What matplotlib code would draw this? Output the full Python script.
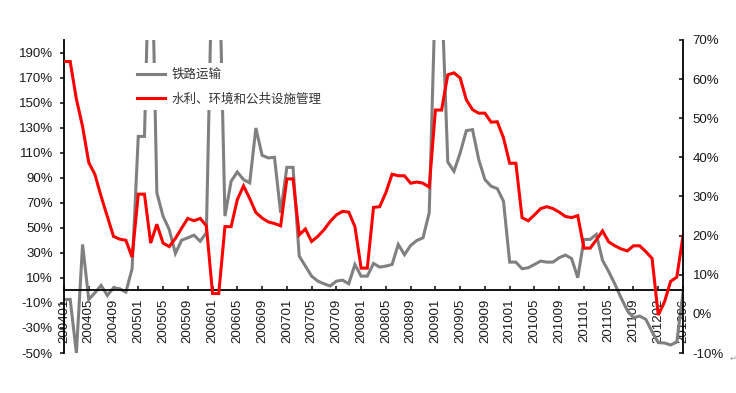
import matplotlib
matplotlib.use("Agg")
import matplotlib.pyplot as plt
from matplotlib.ticker import FuncFormatter
from matplotlib.lines import Line2D

plt.rcParams['font.family'] = ['Liberation Sans', 'Noto Sans CJK SC', 'DejaVu Sans']

# ---- data ----
months = [f"{y}{m:02d}" for y in range(2004, 2012) for m in range(1, 13)]
categories = months + ["201202", "201203", "201204", "201205", "201206"]

rail = [-7.2, -7.2, -50, 36.7, -7.2, -1.9, 4.0, -4.0, 2.1, 1.3,
        -1.3, 17.3, 123, 123, 320, 78, 59.3, 48.6, 29.5, 40.1,
        42, 44.1, 39.3, 46, 280, 280, 59.3, 87.2, 94.6, 88.5,
        85.9, 129.7, 107.9, 105.8, 106.3, 62, 98.3, 98.3, 27.4, 19.4,
        11.4, 7.4, 5.3, 3.5, 7.4, 8.2, 5.3, 20.7, 11.4, 11.4,
        21.5, 18.6, 19.4, 20.7, 36.7, 28.5, 35.9, 39.9, 42, 62,
        240, 240, 102.6, 95.1, 109.8, 127.6, 128.4, 104.5, 88.5, 83.2,
        81.3, 71.2, 22.6, 22.6, 17.3, 18.1, 20.7, 23.4, 22.6, 22.6,
        26.1, 28.2, 25.5, 10.1, 40.7, 40.7, 44.7, 24, 15, 5,
        -6, -16, -21.8, -20.5, -23.1, -33, -41.7, -42, -43.6, -41.2,
        -1.9]

water = [64.5, 64.5, 54.9, 47.9, 38.7, 35.6, 30.0, 24.9, 19.8, 19.1,
         18.8, 14.5, 30.6, 30.6, 18.1, 22.9, 18.1, 17.2, 19.3, 21.9,
         24.4, 23.8, 24.4, 22.5, 5.2, 5.2, 22.3, 22.3, 29.2, 32.7,
         29.5, 25.9, 24.5, 23.5, 23.1, 22.5, 34.5, 34.5, 20.2, 21.7,
         18.5, 19.8, 21.5, 23.6, 25.3, 26.2, 26.0, 22.3, 11.7, 11.7,
         27.2, 27.4, 31.0, 35.7, 35.3, 35.3, 33.4, 33.7, 33.4, 32.4,
         52.1, 52.1, 61.1, 61.6, 60.3, 54.7, 52.2, 51.3, 51.3, 49.0,
         49.1, 45.0, 38.5, 38.5, 24.6, 23.8, 25.3, 26.9, 27.4, 26.9,
         26.0, 24.9, 24.6, 25.1, 16.8, 16.8, 18.9, 21.2, 18.4, 17.4,
         16.6, 16.1, 17.4, 17.4, 15.9, 14.2, -0.3, 3.0, 8.3, 9.4,
         19.9]

series_names = ["铁路运输", "水利、环境和公共设施管理"]
left_ticks = list(range(-50, 191, 20))
right_ticks = list(range(-10, 71, 10))

# ---- figure ----
fig = plt.figure(figsize=(7.36, 3.93), dpi=100)
L, R, T, B = 64, 683, 40, 353
ax = fig.add_axes([L / 736, 1 - B / 393, (R - L) / 736, (B - T) / 393])

x = list(range(len(categories)))
gray = '#808080'
red = '#ff0000'
ax.plot(x, rail, color=gray, lw=2.2, solid_joinstyle='miter')
ax.set_xlim(0, len(categories) - 1)
ax.set_ylim(-50, 200)

ax2 = ax.twinx()
ax2.plot(x, water, color=red, lw=2.2, solid_joinstyle='miter')
ax2.set_ylim(-10, 70)

for s in ['top', 'right']:
    ax.spines[s].set_visible(False)
for s in ['top', 'left', 'bottom']:
    ax2.spines[s].set_visible(False)
ax.spines['bottom'].set_position(('data', 0))
for sp in [ax.spines['left'], ax.spines['bottom'], ax2.spines['right']]:
    sp.set_color('black')
    sp.set_linewidth(1.3)

pct = FuncFormatter(lambda v, p: f"{int(round(v))}%")
ax.set_yticks(left_ticks)
ax.yaxis.set_major_formatter(pct)
ax.tick_params(axis='y', direction='out', length=3, width=1.2, pad=5,
               labelsize=9.5, colors='#1a1a1a')
ax2.set_yticks(right_ticks)
ax2.yaxis.set_major_formatter(pct)
ax2.tick_params(axis='y', direction='in', length=3, width=1.2, pad=7,
                labelsize=9.5, colors='#1a1a1a')

tick_idx = list(range(0, len(categories), 4))
ax.set_xticks(tick_idx)
ax.set_xticklabels([categories[i] for i in tick_idx], rotation=90)
ax.tick_params(axis='x', direction='in', length=3, width=1.2, pad=6,
               labelsize=9.5, colors='#1a1a1a')

handles = [Line2D([], [], color=gray, lw=2.2), Line2D([], [], color=red, lw=2.2)]
leg = ax2.legend(handles, series_names, loc='upper left',
                 bbox_to_anchor=((132 - L) / (R - L), (B - 63) / (B - T)),
                 borderaxespad=0, borderpad=0.4, frameon=True, fancybox=False,
                 facecolor='white', edgecolor='none', framealpha=1,
                 handlelength=2.25, handletextpad=0.5, labelspacing=0.92,
                 prop={'family': ['Noto Sans CJK SC', 'DejaVu Sans'], 'size': 9})
for t in leg.get_texts():
    t.set_color('#333333')
leg.set_zorder(10)

fig.text(733 / 736, 1 - 358 / 393, '↵', fontsize=6, color='#999999',
         ha='center', va='center', family='DejaVu Sans')

fig.savefig('out.png', dpi=100)
